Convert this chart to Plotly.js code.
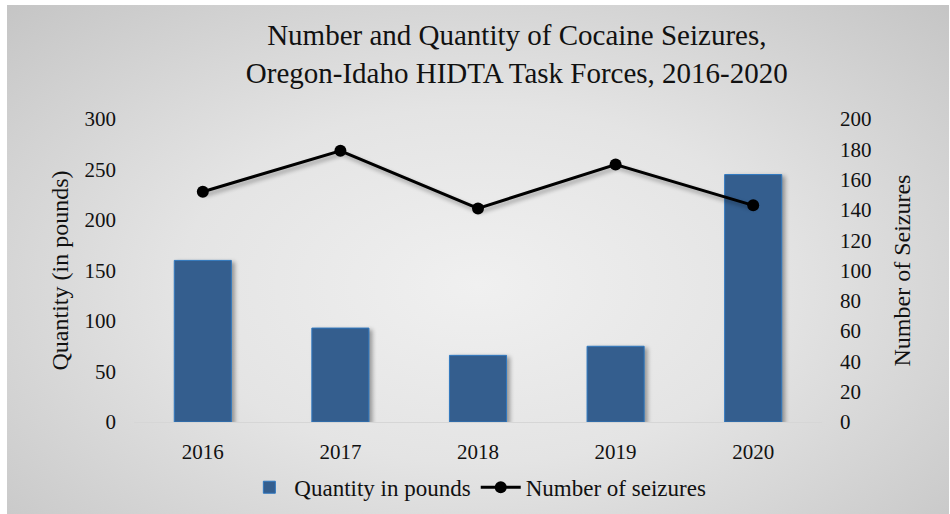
<!DOCTYPE html>
<html>
<head>
<meta charset="utf-8">
<script src="https://cdn.plot.ly/plotly-3.0.1.min.js"></script>
<style>
  html, body { margin: 0; padding: 0; background: #ffffff; }
  #bg {
    position: absolute; left: 7px; top: 5px; width: 942px; height: 509px;
    background: radial-gradient(ellipse farthest-corner at 50% 55%, #f0f0f0 0%, #e4e4e4 45%, #c5c5c5 100%);
  }
  #chart { position: absolute; left: 0; top: 0; width: 950px; height: 514px; }
  #chart .trace.bars path { filter: drop-shadow(3px 2px 2px rgba(0,0,0,0.35)); }
  #chart .scatterlayer .trace .lines path { filter: drop-shadow(2px 3px 2px rgba(0,0,0,0.35)); }
</style>
</head>
<body>
<div id="bg"></div>
<div id="chart"></div>
<script>
const years = ['2016', '2017', '2018', '2019', '2020'];
const quantityPounds = [160, 93, 66, 75, 245];
const numberSeizures = [152, 179, 141, 170, 143];

const FONT = 'Liberation Serif, Times New Roman, serif';

const traces = [
  {
    type: 'bar',
    name: 'Quantity in pounds',
    x: years,
    y: quantityPounds,
    yaxis: 'y',
    width: 0.415,
    marker: { color: '#345e8e', line: { color: '#2f78c0', width: 1 } },
    hoverinfo: 'x+y'
  },
  {
    type: 'scatter',
    mode: 'lines+markers',
    name: 'Number of seizures',
    x: years,
    y: numberSeizures,
    yaxis: 'y2',
    line: { color: '#000000', width: 3 },
    marker: { color: '#000000', size: 12 }
  }
];

const layout = {
  width: 950,
  height: 514,
  paper_bgcolor: 'rgba(0,0,0,0)',
  plot_bgcolor: 'rgba(0,0,0,0)',
  margin: { l: 134, r: 128, t: 119, b: 92 },
  font: { family: FONT, color: '#111111', size: 20 },
  title: {
    text: 'Number and Quantity of Cocaine Seizures,<br>Oregon-Idaho HIDTA Task Forces, 2016-2020',
    font: { family: FONT, size: 29, color: '#111111' },
    x: 0.544, xanchor: 'center',
    y: 0.912, yanchor: 'middle'
  },
  xaxis: {
    type: 'category',
    showgrid: false,
    showline: true,
    linecolor: '#d6d6d6',
    linewidth: 1,
    ticks: '',
    ticklabelstandoff: 11,
    tickfont: { family: FONT, size: 21, color: '#111111' }
  },
  yaxis: {
    range: [0, 300],
    dtick: 50,
    showgrid: false,
    zeroline: false,
    ticks: '',
    ticklabelstandoff: 17,
    tickfont: { family: FONT, size: 21, color: '#111111' },
    title: { text: 'Quantity (in pounds)', font: { family: FONT, size: 24, color: '#111111' }, standoff: 9 }
  },
  yaxis2: {
    range: [0, 200],
    dtick: 20,
    overlaying: 'y',
    side: 'right',
    showgrid: false,
    zeroline: false,
    ticks: '',
    ticklabelstandoff: 17,
    tickfont: { family: FONT, size: 21, color: '#111111' },
    title: { text: 'Number of Seizures', font: { family: FONT, size: 24, color: '#111111' }, standoff: 22 }
  },
  showlegend: true,
  legend: {
    orientation: 'h',
    xref: 'container',
    yref: 'container',
    x: 0.503, xanchor: 'center',
    y: 0.052, yanchor: 'middle',
    bgcolor: 'rgba(0,0,0,0)',
    font: { family: FONT, size: 23, color: '#111111' },
    itemwidth: 40,
    tracegroupgap: 0,
    traceorder: 'normal'
  },
  bargap: 0.5
};

Plotly.newPlot('chart', traces, layout, { displayModeBar: false, staticPlot: true });
</script>
</body>
</html>
